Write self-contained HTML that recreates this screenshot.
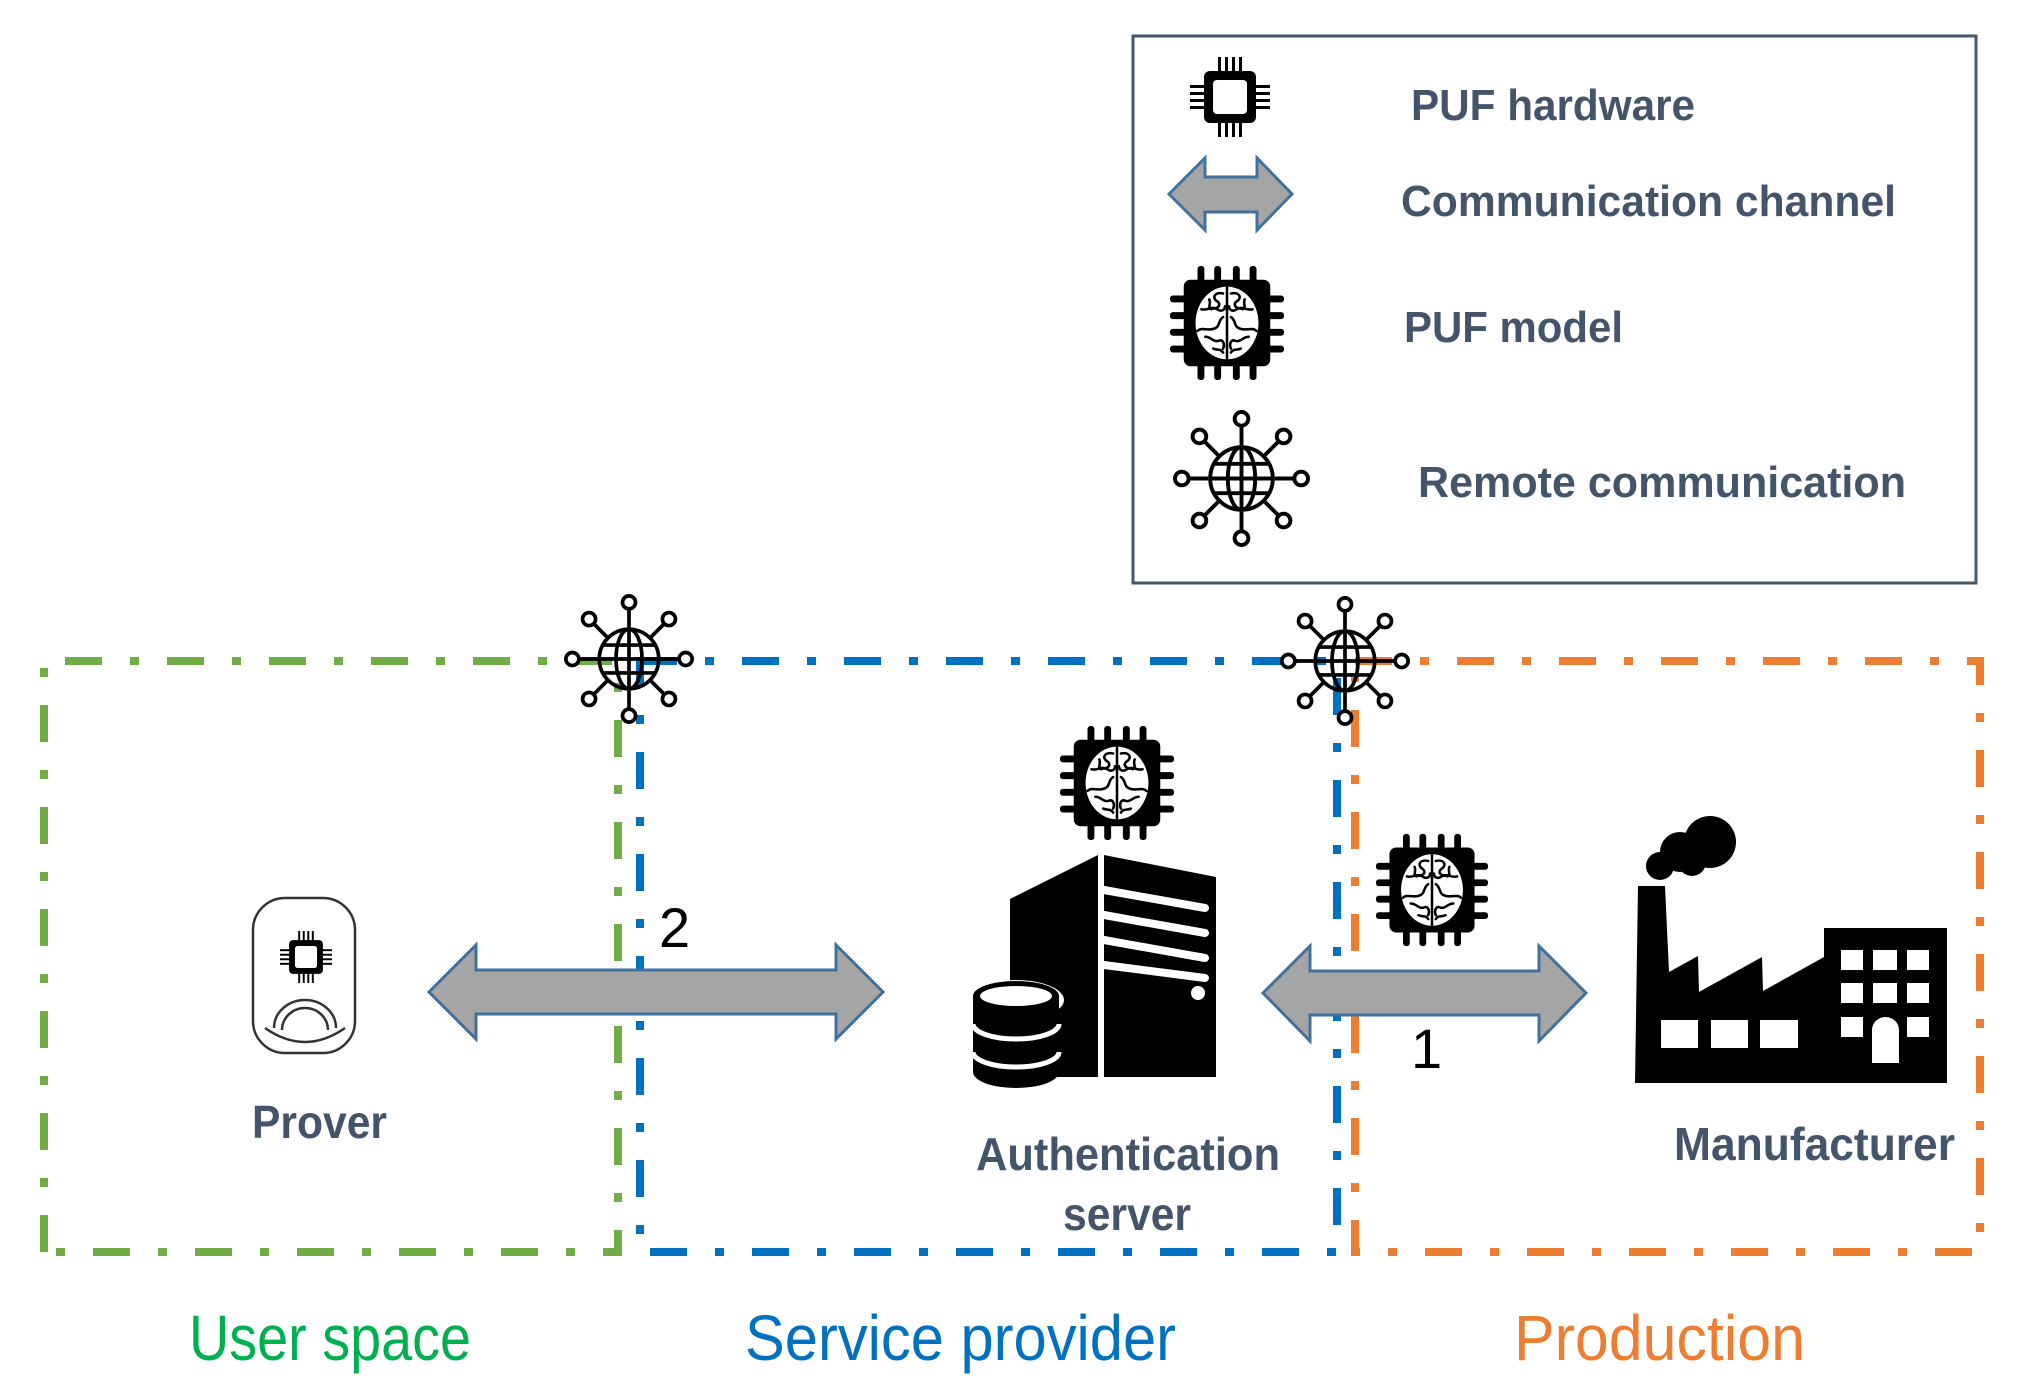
<!DOCTYPE html>
<html><head><meta charset="utf-8"><style>
html,body{margin:0;padding:0;background:#fff;}
svg{display:block;}
.lb{font-family:"Liberation Sans Narrow","Liberation Sans",sans-serif;font-weight:bold;fill:#44546a;}
.rg{font-family:"Liberation Sans Narrow","Liberation Sans",sans-serif;}
</style></head><body>
<svg width="2040" height="1383" viewBox="0 0 2040 1383" xmlns="http://www.w3.org/2000/svg">
<defs>
<symbol id="bchip" viewBox="-60 -60 120 120" overflow="visible">
  <g fill="#000">
    <rect x="-30" y="-58" width="7" height="116" rx="3"/>
    <rect x="-13" y="-58" width="7" height="116" rx="3"/>
    <rect x="6" y="-58" width="7" height="116" rx="3"/>
    <rect x="23" y="-58" width="7" height="116" rx="3"/>
    <rect x="-58" y="-28" width="116" height="7" rx="3"/>
    <rect x="-58" y="-11" width="116" height="7" rx="3"/>
    <rect x="-58" y="6" width="116" height="7" rx="3"/>
    <rect x="-58" y="23" width="116" height="7" rx="3"/>
    <rect x="-44" y="-44" width="88" height="88" rx="7"/>
  </g>
  <ellipse cx="0" cy="0" rx="32" ry="37" fill="#fff"/>
  <g fill="none" stroke="#000" stroke-width="2.6" stroke-linecap="round">
    <path d="M0,-36 V36"/>
    <path d="M-4,-30 c-8,-2 -12,4 -6,8 c6,4 -2,10 -8,6"/>
    <path d="M4,-30 c8,-2 12,4 6,8 c-6,4 2,10 8,6"/>
    <path d="M-26,-14 c6,2 10,-4 16,0 c4,3 8,1 8,-3"/>
    <path d="M26,-14 c-6,2 -10,-4 -16,0 c-4,3 -8,1 -8,-3"/>
    <path d="M-4,-6 c-6,4 -2,10 -10,12 c-6,2 -12,-2 -16,2"/>
    <path d="M4,-6 c6,4 2,10 10,12 c6,2 12,-2 16,2"/>
    <path d="M-22,14 c6,0 8,6 14,4 c4,-2 6,4 4,8"/>
    <path d="M22,14 c-6,0 -8,6 -14,4 c-4,-2 -6,4 -4,8"/>
    <path d="M-18,-24 c2,4 -2,8 2,10"/>
    <path d="M18,-24 c-2,4 2,8 -2,10"/>
    <path d="M-14,26 c4,2 8,0 10,4"/>
    <path d="M14,26 c-4,2 -8,0 -10,4"/>
  </g>
</symbol>
<symbol id="globe" viewBox="-70 -70 140 140" overflow="visible">
  <g fill="none" stroke="#000" stroke-width="4">
    <circle cx="0" cy="0" r="32"/>
    <ellipse cx="0" cy="0" rx="14" ry="32"/>
    <path d="M0,-32 V32 M-32,0 H32 M-28,-15 H28 M-28,15 H28"/>
    <path d="M0,-34 V-54 M0,34 V54 M-34,0 H-54 M34,0 H54"/>
    <path d="M-24,-24 L-38,-38 M24,-24 L38,-38 M-24,24 L-38,38 M24,24 L38,38"/>
    <circle cx="0" cy="-61" r="7" fill="#fff"/>
    <circle cx="0" cy="61" r="7" fill="#fff"/>
    <circle cx="-61" cy="0" r="7" fill="#fff"/>
    <circle cx="61" cy="0" r="7" fill="#fff"/>
    <circle cx="-43" cy="-43" r="7" fill="#fff"/>
    <circle cx="43" cy="-43" r="7" fill="#fff"/>
    <circle cx="-43" cy="43" r="7" fill="#fff"/>
    <circle cx="43" cy="43" r="7" fill="#fff"/>
  </g>
</symbol>
<symbol id="hchip" viewBox="-40 -40 80 80" overflow="visible">
  <g fill="#000">
    <rect x="-12" y="-40" width="3" height="80"/><rect x="-5" y="-40" width="3" height="80"/>
    <rect x="2" y="-40" width="3" height="80"/><rect x="9" y="-40" width="3" height="80"/>
    <rect x="-40" y="-12" width="80" height="3"/><rect x="-40" y="-5" width="80" height="3"/>
    <rect x="-40" y="2" width="80" height="3"/><rect x="-40" y="9" width="80" height="3"/>
    <rect x="-26" y="-26" width="52" height="52" rx="6"/>
  </g>
  <rect x="-17" y="-17" width="34" height="34" rx="4" fill="#fff"/>
</symbol>
</defs>

<!-- Legend -->
<rect x="1133" y="36" width="843" height="547" fill="#fff" stroke="#44546a" stroke-width="3"/>
<use href="#hchip" x="1190" y="57" width="80" height="80"/>
<polygon points="1169,194 1205,158 1205,177 1257,177 1257,158 1292,194 1257,230 1257,212 1205,212 1205,230" fill="#a5a5a5" stroke="#41719c" stroke-width="3"/>
<use href="#bchip" x="1168" y="264" width="118" height="118"/>
<use href="#globe" x="1173" y="410" width="137" height="137"/>
<text class="lb" x="1411" y="120" font-size="44" textLength="284" lengthAdjust="spacingAndGlyphs">PUF hardware</text>
<text class="lb" x="1401" y="216" font-size="44" textLength="495" lengthAdjust="spacingAndGlyphs">Communication channel</text>
<text class="lb" x="1404" y="342" font-size="44" textLength="219" lengthAdjust="spacingAndGlyphs">PUF model</text>
<text class="lb" x="1418" y="497" font-size="44" textLength="488" lengthAdjust="spacingAndGlyphs">Remote communication</text>

<!-- Boxes -->
<g fill="none" stroke-width="8" stroke-dasharray="37 28 9 28">
  <path d="M44,1252 V661 H618 V1252 Z" stroke="#70ad47"/>
  <path d="M640,661 H1337 V1252 H640 Z" stroke="#0070c0"/>
  <path d="M1355,661 H1980 V1252 H1355 Z" stroke="#ed7d31"/>
</g>

<!-- Globes on boundaries -->
<use href="#globe" x="564" y="594" width="130" height="130"/>
<use href="#globe" x="1280" y="596" width="130" height="130"/>

<!-- Prover -->
<rect x="253" y="898" width="102" height="155" rx="32" fill="#fff" stroke="#333" stroke-width="2.5"/>
<use href="#hchip" x="280" y="931" width="52" height="52"/>
<g fill="none" stroke="#333" stroke-width="2.5">
  <path d="M282,1030 a23,22 0 0 1 46,0"/>
  <path d="M274,1028 a31,28 0 0 1 62,0"/>
  <path d="M265,1028 q40,28 80,0"/>
</g>
<text class="lb" x="252" y="1138" font-size="46" textLength="135" lengthAdjust="spacingAndGlyphs">Prover</text>

<!-- Arrow 2 -->
<polygon points="429,992 476,945 476,970 836,970 836,945 883,992 836,1039 836,1014 476,1014 476,1039" fill="#a5a5a5" stroke="#41719c" stroke-width="3"/>
<text class="rg" x="659" y="947" font-size="56" fill="#000">2</text>

<!-- Server -->
<use href="#bchip" x="1058" y="724" width="118" height="118"/>
<g fill="#000">
  <polygon points="1010,899 1098,855 1098,1077 1010,1077"/>
  <polygon points="1104,855 1216,877 1216,1077 1104,1077"/>
  <ellipse cx="1016" cy="1000" rx="48" ry="20" fill="#fff"/>
  <path d="M973,996 V1072 a43,16 0 0 0 86,0 V996 Z"/>
  <ellipse cx="1016" cy="996" rx="43" ry="15"/>
</g>
<g fill="none" stroke="#fff">
  <ellipse cx="1016" cy="996" rx="36" ry="10" stroke-width="0" fill="#fff"/>
  <path d="M973,1024 a43,15 0 0 0 86,0" stroke-width="5"/>
  <path d="M973,1052 a43,15 0 0 0 86,0" stroke-width="5"/>
  <path d="M1104,890 L1205,908" stroke-width="8" stroke-linecap="round"/>
  <path d="M1104,915 L1205,933" stroke-width="8" stroke-linecap="round"/>
  <path d="M1104,940 L1205,958" stroke-width="8" stroke-linecap="round"/>
  <path d="M1104,965 L1205,978" stroke-width="8" stroke-linecap="round"/>
  <path d="M1101,855 V1077" stroke-width="4"/>
</g>
<circle cx="1198" cy="993" r="7" fill="#fff"/>
<text class="lb" x="976" y="1170" font-size="46" textLength="304" lengthAdjust="spacingAndGlyphs">Authentication</text>
<text class="lb" x="1063" y="1230" font-size="46" textLength="128" lengthAdjust="spacingAndGlyphs">server</text>

<!-- Arrow 1 -->
<use href="#bchip" x="1374" y="832" width="116" height="116"/>
<polygon points="1263,993 1310,946 1310,971 1539,971 1539,946 1586,993 1539,1041 1539,1015 1310,1015 1310,1041" fill="#a5a5a5" stroke="#41719c" stroke-width="3"/>
<text class="rg" x="1411" y="1068" font-size="56" fill="#000">1</text>

<!-- Factory -->
<g fill="#000">
  <circle cx="1660" cy="866" r="14"/><circle cx="1680" cy="852" r="20"/><circle cx="1710" cy="842" r="26"/><circle cx="1692" cy="862" r="14"/>
  <polygon points="1635,1083 1638,886 1665,886 1669,972 1698,956 1699,992 1762,957 1763,991 1824,957 1824,928 1947,928 1947,1083"/>
</g>
<g fill="#fff">
  <rect x="1661" y="1020" width="37" height="28"/><rect x="1711" y="1020" width="37" height="28"/><rect x="1760" y="1020" width="38" height="28"/>
  <rect x="1841" y="950" width="22" height="20"/><rect x="1873" y="950" width="24" height="20"/><rect x="1907" y="950" width="22" height="20"/>
  <rect x="1841" y="983" width="22" height="20"/><rect x="1873" y="983" width="24" height="20"/><rect x="1907" y="983" width="22" height="20"/>
  <rect x="1841" y="1017" width="22" height="20"/><rect x="1907" y="1017" width="22" height="20"/>
  <path d="M1872,1063 V1030 a13.5,13 0 0 1 27,0 V1063 Z"/>
</g>
<text class="lb" x="1674" y="1160" font-size="46" textLength="281" lengthAdjust="spacingAndGlyphs">Manufacturer</text>

<!-- Bottom labels -->
<text class="rg" x="189" y="1360" font-size="64" fill="#00b050" textLength="282" lengthAdjust="spacingAndGlyphs">User space</text>
<text class="rg" x="745" y="1360" font-size="64" fill="#0070c0" textLength="431" lengthAdjust="spacingAndGlyphs">Service provider</text>
<text class="rg" x="1514" y="1360" font-size="64" fill="#ed7d31" textLength="291" lengthAdjust="spacingAndGlyphs">Production</text>
</svg>
</body></html>
